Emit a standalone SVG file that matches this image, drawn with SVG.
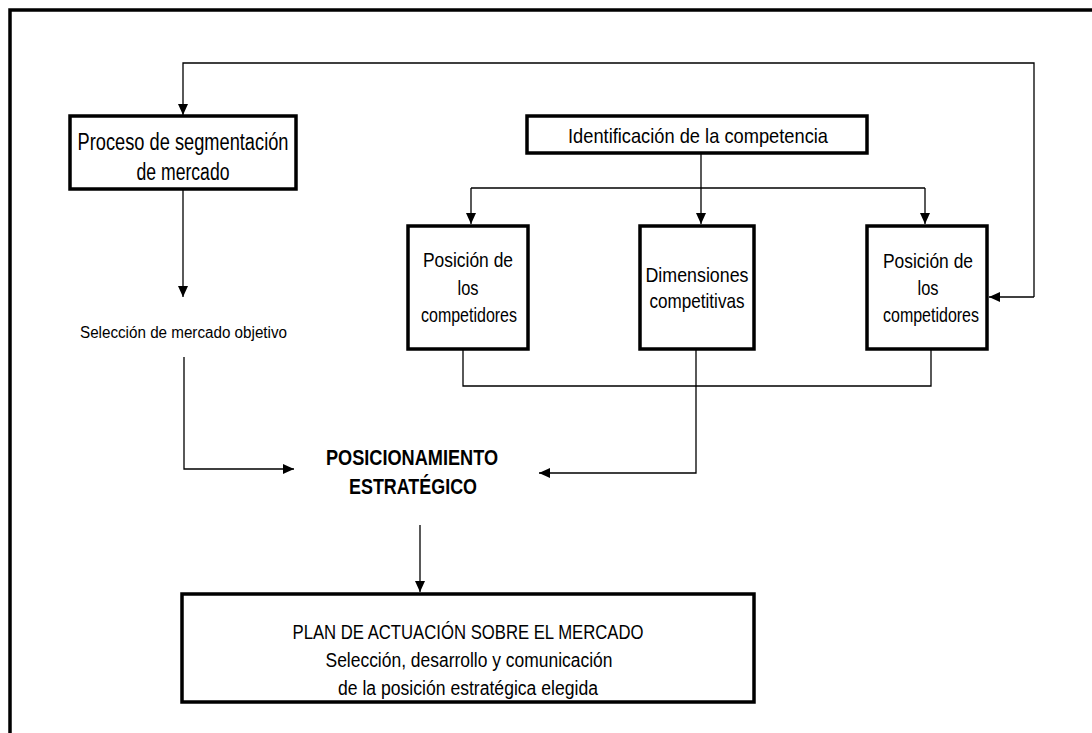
<svg xmlns="http://www.w3.org/2000/svg" width="1092" height="733" viewBox="0 0 1092 733">
  <style>
    .box { fill: #ffffff; stroke: #000000; stroke-width: 3.5; }
    .frame { fill: none; stroke: #000000; stroke-width: 3.5; }
    .wire { fill: none; stroke: #000000; stroke-width: 1.3; }
    .lbl { font-family: "Liberation Sans", Arial, sans-serif; fill: #000000; text-anchor: middle; }
    .bold { font-weight: bold; }
  </style>
  <defs>
    <marker id="arrow" viewBox="0 0 11 10" refX="11" refY="5" markerWidth="11" markerHeight="10" markerUnits="userSpaceOnUse" orient="auto">
      <path d="M0,0 L11,5 L0,10 Z" fill="#000000"/>
    </marker>
  </defs>

  <rect width="1092" height="733" fill="#ffffff"/>

  <!-- outer frame (top and left edges) -->
  <path class="frame" d="M10,733 V10 H1092"/>

  <!-- connectors -->
  <g id="connectors">
    <path class="wire" d="M1034,297 V63 H183 V115" marker-end="url(#arrow)"/>
    <path class="wire" d="M1034,297 H989" marker-end="url(#arrow)"/>
    <path class="wire" d="M183,190 V297" marker-end="url(#arrow)"/>
    <path class="wire" d="M184,357 V469 H294" marker-end="url(#arrow)"/>
    <path class="wire" d="M701,153 V224" marker-end="url(#arrow)"/>
    <path class="wire" d="M471,188 H925"/>
    <path class="wire" d="M471,188 V224" marker-end="url(#arrow)"/>
    <path class="wire" d="M925,188 V224" marker-end="url(#arrow)"/>
    <path class="wire" d="M463,350 V386 H931 V350"/>
    <path class="wire" d="M696,350 V473 H539" marker-end="url(#arrow)"/>
    <path class="wire" d="M420,525 V592" marker-end="url(#arrow)"/>
  </g>

  <g id="segmentacion">
    <rect class="box" x="70" y="116" width="226" height="73"/>
    <text class="lbl" font-size="23" x="183" y="150" textLength="211" lengthAdjust="spacingAndGlyphs">Proceso de segmentación</text>
    <text class="lbl" font-size="23" x="183" y="180" textLength="93" lengthAdjust="spacingAndGlyphs">de mercado</text>
  </g>

  <g id="seleccion">
    <text class="lbl" font-size="16" x="183.5" y="338" textLength="207" lengthAdjust="spacingAndGlyphs">Selección de mercado objetivo</text>
  </g>

  <g id="identificacion">
    <rect class="box" x="527" y="116" width="340" height="37"/>
    <text class="lbl" font-size="21" x="698" y="143" textLength="260" lengthAdjust="spacingAndGlyphs">Identificación de la competencia</text>
  </g>

  <g id="posicion-izq">
    <rect class="box" x="408" y="226" width="120" height="123"/>
    <text class="lbl" font-size="21" x="468" y="267" textLength="90" lengthAdjust="spacingAndGlyphs">Posición de</text>
    <text class="lbl" font-size="21" x="468" y="295" textLength="21" lengthAdjust="spacingAndGlyphs">los</text>
    <text class="lbl" font-size="21" x="469" y="322" textLength="96" lengthAdjust="spacingAndGlyphs">competidores</text>
  </g>

  <g id="dimensiones">
    <rect class="box" x="640" y="226" width="114" height="123"/>
    <text class="lbl" font-size="21" x="697" y="282" textLength="103" lengthAdjust="spacingAndGlyphs">Dimensiones</text>
    <text class="lbl" font-size="21" x="697" y="308" textLength="95" lengthAdjust="spacingAndGlyphs">competitivas</text>
  </g>

  <g id="posicion-der">
    <rect class="box" x="867" y="226" width="120" height="123"/>
    <text class="lbl" font-size="21" x="928" y="268" textLength="90" lengthAdjust="spacingAndGlyphs">Posición de</text>
    <text class="lbl" font-size="21" x="928" y="295" textLength="21" lengthAdjust="spacingAndGlyphs">los</text>
    <text class="lbl" font-size="21" x="931" y="322" textLength="96" lengthAdjust="spacingAndGlyphs">competidores</text>
  </g>

  <g id="posicionamiento">
    <text class="lbl bold" font-size="22" x="412" y="465" textLength="172" lengthAdjust="spacingAndGlyphs">POSICIONAMIENTO</text>
    <text class="lbl bold" font-size="22" x="413" y="494" textLength="128" lengthAdjust="spacingAndGlyphs">ESTRATÉGICO</text>
  </g>

  <g id="plan">
    <rect class="box" x="182" y="594" width="572" height="108"/>
    <text class="lbl" font-size="21" x="468" y="639" textLength="351" lengthAdjust="spacingAndGlyphs">PLAN DE ACTUACIÓN SOBRE EL MERCADO</text>
    <text class="lbl" font-size="20" x="469" y="667" textLength="287" lengthAdjust="spacingAndGlyphs">Selección, desarrollo y comunicación</text>
    <text class="lbl" font-size="20" x="468" y="695" textLength="260" lengthAdjust="spacingAndGlyphs">de la posición estratégica elegida</text>
  </g>
</svg>
